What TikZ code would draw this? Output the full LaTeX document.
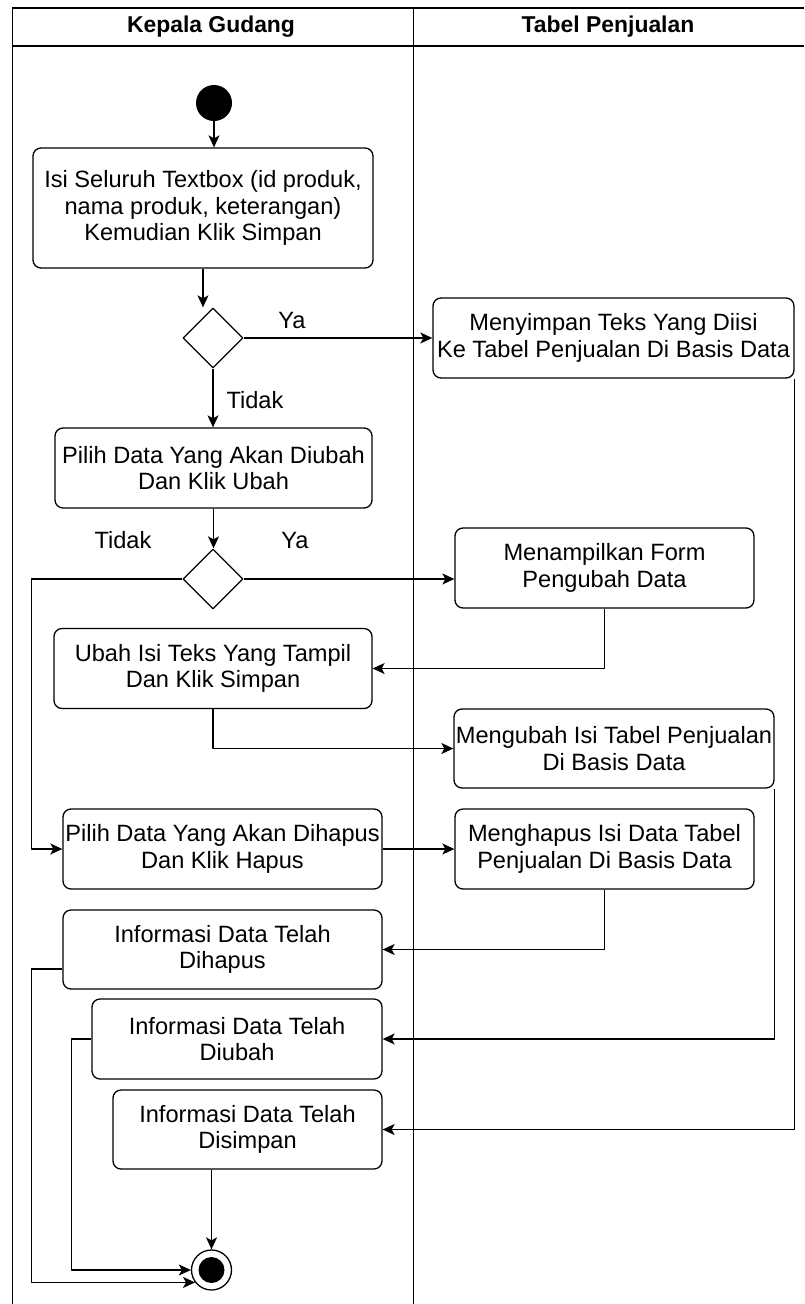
\documentclass[tikz,border=0pt]{standalone}
\usepackage{fontspec}
\setmainfont{Liberation Sans}
\usepackage{tikz}
\usetikzlibrary{shapes.geometric, arrows.meta, positioning, calc}

\begin{document}
\begin{tikzpicture}[x=1pt, y=-1pt, line join=round,
  act node/.style={rectangle, rounded corners=8pt, draw, line width=1.3pt, align=center, inner sep=0pt, font=\fontsize{23.6}{26.5}\selectfont},
  dec node/.style={diamond, draw, line width=1.3pt, minimum width=60pt, minimum height=60pt, inner sep=0pt},
  flow/.style={-{Stealth[length=12pt, width=11pt, inset=3pt]}, line width=1.3pt},
  lbl/.style={font=\fontsize{23.6}{26.5}\selectfont},
  lane/.style={line width=1pt}]

		\useasboundingbox (0,0) rectangle (804,1304);

		% Swimlanes
		\draw[lane] (12,1304) -- (12,8);
		\draw[line width=1.6pt] (12,8) -- (804,8);
		\draw[line width=1.6pt] (12,46) -- (804,46);
		\draw[lane] (413,8) -- (413,1304);
		\node[font=\bfseries\fontsize{22.9}{26}\selectfont] (laneA) at (211,27) {Kepala Gudang};
		\node[font=\bfseries\fontsize{22.9}{26}\selectfont] (laneB) at (608,27) {Tabel Penjualan};

		% Nodes
		\node[circle, fill=black, minimum size=36pt, inner sep=0pt] (start) at (214,103) {};
		\node[act node, minimum width=340pt, minimum height=120pt] (isi) at (203,208) {Isi Seluruh Textbox (id produk,\\nama produk, keterangan)\\Kemudian Klik Simpan};
		\node[dec node] (d1) at (213,338) {};
		\node[act node, minimum width=361pt, minimum height=80pt] (simpan) at (613.5,338) {Menyimpan Teks Yang Diisi\\Ke Tabel Penjualan Di Basis Data};
		\node[act node, minimum width=317pt, minimum height=80pt] (pilihubah) at (213.5,468) {Pilih Data Yang Akan Diubah\\Dan Klik Ubah};
		\node[dec node] (d2) at (213,579) {};
		\node[act node, minimum width=299pt, minimum height=80pt] (tampil) at (604.5,568) {Menampilkan Form\\Pengubah Data};
		\node[act node, minimum width=318pt, minimum height=80pt] (ubahisi) at (213,668.5) {Ubah Isi Teks Yang Tampil\\Dan Klik Simpan};
		\node[act node, minimum width=320pt, minimum height=79pt] (mengubah) at (614,748.5) {Mengubah Isi Tabel Penjualan\\Di Basis Data};
		\node[act node, minimum width=319pt, minimum height=80pt] (pilihhapus) at (222.5,849) {Pilih Data Yang Akan Dihapus\\Dan Klik Hapus};
		\node[act node, minimum width=299pt, minimum height=80pt] (menghapus) at (604.5,849) {Menghapus Isi Data Tabel\\Penjualan Di Basis Data};
		\node[act node, minimum width=319pt, minimum height=79pt] (infohapus) at (222.5,949.5) {Informasi Data Telah\\Dihapus};
		\node[act node, minimum width=290pt, minimum height=80pt] (infoubah) at (237,1039) {Informasi Data Telah\\Diubah};
		\node[act node, minimum width=269pt, minimum height=79pt] (infosimpan) at (247.5,1129.5) {Informasi Data Telah\\Disimpan};
		\node[circle, draw, line width=1.3pt, minimum size=40pt, inner sep=0pt] (end) at (211.5,1270) {};
		\node[circle, fill=black, minimum size=26pt, inner sep=0pt] (endDot) at (end) {};

		% Labels
		\node[lbl] (ya1) at (292,320) {Ya};
		\node[lbl] (tidak1) at (255,400) {Tidak};
		\node[lbl] (tidak2) at (123,540) {Tidak};
		\node[lbl] (ya2) at (295,540) {Ya};

		% Edges (connections)
		\draw[flow] (start) -- (start |- isi.north);
		\draw[flow] (isi.south) -- (isi.south |- d1.north);
		\draw[flow] (d1.east) -- (simpan.west);
		\draw[flow] (d1.south) -- (d1.south |- pilihubah.north);
		\draw[flow] (pilihubah.south) -- (pilihubah.south |- d2.north);
		\draw[flow] (d2.east) -- (d2.east -| tampil.west);
		\draw[flow] (d2.west) -- ++(-151,0) |- (pilihhapus.west);
		\draw[flow] (tampil.south) |- (ubahisi.east);
		\draw[flow] (ubahisi.south) |- (mengubah.west);
		\draw[flow] (pilihhapus.east) -- (menghapus.west);
		\draw[flow] (menghapus.south) |- (infohapus.east);
		\draw[flow] (mengubah.south east) |- (infoubah.east);
		\draw[flow] (simpan.south east) |- (infosimpan.east);
		\draw[flow] (end.north |- infosimpan.south) -- (end.north);
		\draw[flow] (infoubah.west) -- ++(-20,0) |- (end.west);
		\draw[flow] ([yshift=-19.5pt]infohapus.west) -- ++(-31,0) |- (end.217);
	\end{tikzpicture}
\end{document}
